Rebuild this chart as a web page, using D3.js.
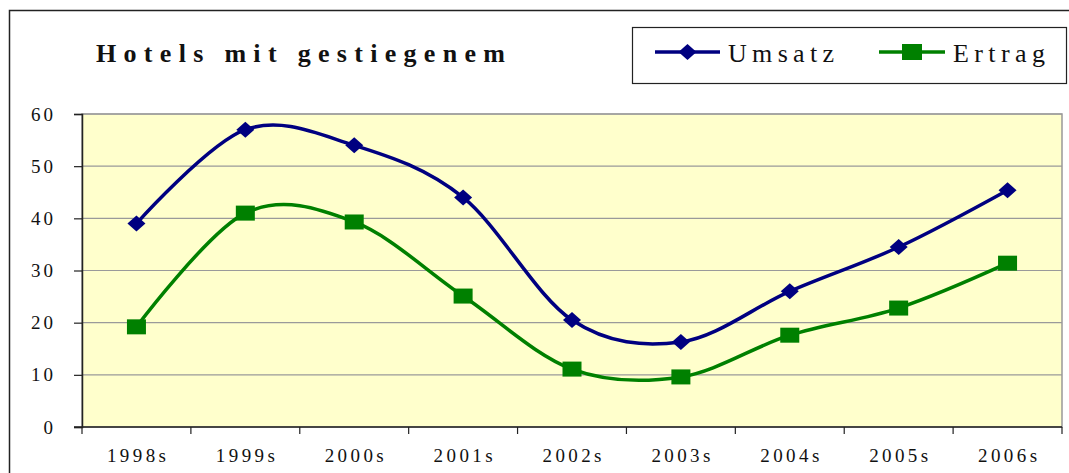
<!DOCTYPE html>
<html>
<head>
<meta charset="utf-8">
<script src="https://cdn.jsdelivr.net/npm/d3@7"></script>
<style>
  body { margin: 0; background: #fff; }
  svg { display: block; font-family: "Liberation Serif", "DejaVu Serif", serif; }
</style>
</head>
<body>
<div id="chart"></div>
<script>
// data
var categories = ["1998s", "1999s", "2000s", "2001s", "2002s", "2003s", "2004s", "2005s", "2006s"];
var umsatz = [39, 57, 54, 44, 20.5, 16.3, 26, 34.5, 45.4];
var ertrag = [19.2, 41, 39.3, 25.1, 11.1, 9.6, 17.6, 22.8, 31.4];
var yTicks = [0, 10, 20, 30, 40, 50, 60];
var seriesNames = ["Umsatz", "Ertrag"];

var W = 1069, H = 473;
var plot = {left: 82, right: 1062, top: 114, bottom: 427};
var serif = "'Liberation Serif', 'DejaVu Serif', serif";

var svg = d3.select("#chart").append("svg")
    .attr("width", W)
    .attr("height", H);

// outer frame (runs off the right and bottom)
svg.append("rect")
   .attr("x", 9.5).attr("y", 10.5)
   .attr("width", 1200).attr("height", 600)
   .attr("fill", "none")
   .attr("stroke", "#222")
   .attr("stroke-width", 1.5);

var x = d3.scaleBand().domain(categories).range([plot.left, plot.right]);
var y = d3.scaleLinear().domain([0, 60]).range([plot.bottom, plot.top]);
var cx = function(c) { return x(c) + x.bandwidth() / 2; };

// plot area
svg.append("rect")
   .attr("x", plot.left).attr("y", plot.top)
   .attr("width", plot.right - plot.left)
   .attr("height", plot.bottom - plot.top)
   .attr("fill", "#FFFFCC")
   .attr("stroke", "#999")
   .attr("stroke-width", 1.5);

// gridlines
svg.append("g").selectAll("line")
   .data(yTicks.filter(d => d > 0))
   .enter().append("line")
   .attr("x1", plot.left).attr("x2", plot.right)
   .attr("y1", d => y(d)).attr("y2", d => y(d))
   .attr("stroke", "#9a9a9a")
   .attr("stroke-width", 1.2);

// y axis
var yAxis = svg.append("g")
   .attr("transform", "translate(" + plot.left + ",0)")
   .call(d3.axisLeft(y).tickValues(yTicks).tickSize(8).tickPadding(18).tickFormat(d3.format("d")));
yAxis.attr("font-family", serif);
yAxis.select(".domain").attr("stroke", "#222").attr("stroke-width", 1.5);
yAxis.selectAll(".tick line").attr("stroke", "#222").attr("stroke-width", 1.2);
yAxis.selectAll("text")
     .attr("font-size", 19)
     .attr("letter-spacing", "3px")
     .attr("fill", "#111");

// x axis (labels in band centres, ticks on band edges)
var xAxis = svg.append("g")
   .attr("transform", "translate(0," + plot.bottom + ")")
   .call(d3.axisBottom(x).tickSize(0).tickPadding(22));
xAxis.attr("font-family", serif);
xAxis.select(".domain").remove();
xAxis.selectAll("text")
     .attr("font-size", 19)
     .attr("letter-spacing", "3.4px")
     .attr("dx", "1.7px")
     .attr("fill", "#111");

svg.append("line")
   .attr("x1", plot.left - 8).attr("x2", plot.right)
   .attr("y1", plot.bottom).attr("y2", plot.bottom)
   .attr("stroke", "#222").attr("stroke-width", 1.5);

var edges = categories.map(c => x(c)).concat([plot.right]);
svg.append("g").selectAll("line")
   .data(edges)
   .enter().append("line")
   .attr("x1", d => d).attr("x2", d => d)
   .attr("y1", plot.bottom).attr("y2", plot.bottom + 7)
   .attr("stroke", "#222").attr("stroke-width", 1.2);

// lines
var line = d3.line()
    .x((d, i) => cx(categories[i]))
    .y(d => y(d))
    .curve(d3.curveCardinal.tension(0));

var colors = {Umsatz: "#000080", Ertrag: "#008000"};

svg.append("path").datum(umsatz)
   .attr("d", line).attr("fill", "none")
   .attr("stroke", colors.Umsatz).attr("stroke-width", 3.5);
svg.append("path").datum(ertrag)
   .attr("d", line).attr("fill", "none")
   .attr("stroke", colors.Ertrag).attr("stroke-width", 3.5);

var diamond = function(px, py) {
    return "M" + px + "," + (py - 8) + "L" + (px + 9) + "," + py +
           "L" + px + "," + (py + 8) + "L" + (px - 9) + "," + py + "Z";
};

svg.append("g").selectAll("path")
   .data(umsatz)
   .enter().append("path")
   .attr("d", (d, i) => diamond(cx(categories[i]), y(d)))
   .attr("fill", colors.Umsatz);

svg.append("g").selectAll("rect")
   .data(ertrag)
   .enter().append("rect")
   .attr("x", (d, i) => cx(categories[i]) - 9.5)
   .attr("y", d => y(d) - 7.5)
   .attr("width", 19).attr("height", 15)
   .attr("fill", colors.Ertrag);

// title
svg.append("text")
   .attr("x", 96).attr("y", 62)
   .attr("font-family", serif)
   .attr("font-size", 26)
   .attr("font-weight", "bold")
   .attr("textLength", 409)
   .attr("lengthAdjust", "spacing")
   .attr("fill", "#111")
   .text("Hotels mit gestiegenem");

// legend
var lg = svg.append("g");
lg.append("rect")
  .attr("x", 632.5).attr("y", 27.5)
  .attr("width", 434).attr("height", 56)
  .attr("fill", "#fff")
  .attr("stroke", "#222").attr("stroke-width", 1.2);

var legendItems = [
    {name: seriesNames[0], x0: 655, x1: 720, tx: 728, tw: 106},
    {name: seriesNames[1], x0: 879, x1: 945, tx: 953, tw: 92}
];
var ly = 52;
legendItems.forEach(function(it) {
    lg.append("line")
      .attr("x1", it.x0).attr("x2", it.x1)
      .attr("y1", ly).attr("y2", ly)
      .attr("stroke", colors[it.name]).attr("stroke-width", 3.5);
    var mx = (it.x0 + it.x1) / 2;
    if (it.name === "Umsatz") {
        lg.append("path").attr("d", diamond(mx, ly)).attr("fill", colors[it.name]);
    } else {
        lg.append("rect")
          .attr("x", mx - 10).attr("y", ly - 8)
          .attr("width", 20).attr("height", 16)
          .attr("fill", colors[it.name]);
    }
    lg.append("text")
      .attr("x", it.tx).attr("y", 62)
      .attr("font-family", serif)
      .attr("font-size", 26)
      .attr("textLength", it.tw)
      .attr("lengthAdjust", "spacing")
      .attr("fill", "#111")
      .text(it.name);
});
</script>
</body>
</html>
